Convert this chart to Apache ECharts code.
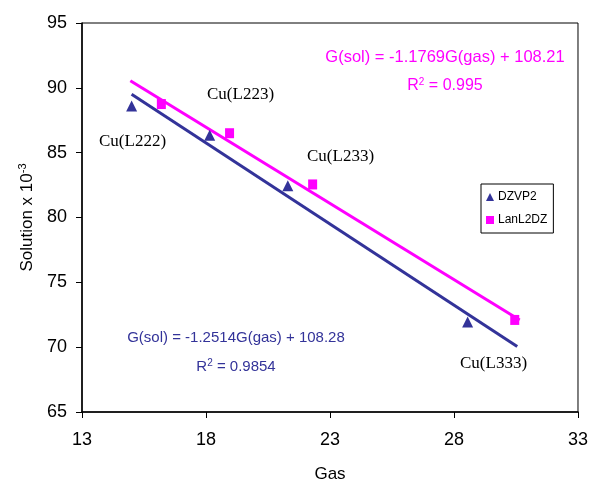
<!DOCTYPE html>
<html>
<head>
<meta charset="utf-8">
<script src="https://cdn.jsdelivr.net/npm/echarts@6/dist/echarts.min.js"></script>
<style>html,body{margin:0;padding:0;background:#fff;}#c{width:591px;height:488px;}</style>
</head>
<body>
<div id="c"></div>
<script>
// Data
var dzvp2Points = [[15.0, 88.6], [18.15, 86.35], [21.3, 82.45], [28.55, 71.95]];
var lanl2dzPoints = [[16.2, 88.75], [18.95, 86.5], [22.3, 82.55], [30.45, 72.1]];
var dzvp2Trend = [[15.0, 89.5], [30.55, 70.05]];
var lanl2dzTrend = [[14.95, 90.55], [30.65, 72.1]];
var seriesNames = ['DZVP2', 'LanL2DZ'];
var pointLabels = ['Cu(L222)', 'Cu(L223)', 'Cu(L233)', 'Cu(L333)'];
var xTicks = [13, 18, 23, 28, 33];
var yTicks = [65, 70, 75, 80, 85, 90, 95];

var BLUE = '#333399', PINK = '#FF00FF';
var SANS = 'Liberation Sans, Arial, sans-serif';
var SERIF = 'Liberation Serif, Times New Roman, serif';

var chart = echarts.init(document.getElementById('c'), null, {renderer: 'canvas'});
var option = {
  animation: false,
  backgroundColor: '#fff',
  grid: {left: 82, right: 13, top: 23, bottom: 76, show: true, borderColor: '#000', borderWidth: 1, backgroundColor: 'transparent'},
  xAxis: {
    type: 'value', min: xTicks[0], max: xTicks[xTicks.length - 1], interval: 5,
    name: 'Gas', nameLocation: 'middle', nameGap: 54,
    nameTextStyle: {fontFamily: SANS, fontSize: 17, color: '#000'},
    axisLine: {show: true, lineStyle: {color: '#000', width: 1.5}},
    axisTick: {show: true, inside: false, length: 6, lineStyle: {color: '#000'}},
    axisLabel: {margin: 19, fontFamily: SANS, fontSize: 18, color: '#000'},
    splitLine: {show: false}
  },
  yAxis: {
    type: 'value', min: yTicks[0], max: yTicks[yTicks.length - 1], interval: 5,
    name: '{a|Solution x 10}{s|-3}', nameLocation: 'middle', nameGap: 44, nameMoveOverlap: false,
    nameTextStyle: {rich: {a: {fontFamily: SANS, fontSize: 17, color: '#000'}, s: {fontFamily: SANS, fontSize: 11, color: '#000', verticalAlign: 'top', padding: [0, 0, 10, 0]}}},
    axisLine: {show: true, lineStyle: {color: '#000', width: 1.5}},
    axisTick: {show: true, inside: false, length: 6, lineStyle: {color: '#000'}},
    axisLabel: {margin: 15, fontFamily: SANS, fontSize: 18, color: '#000'},
    splitLine: {show: false}
  },
  legend: {
    orient: 'vertical', left: 481, top: 184, width: 60,
    data: seriesNames,
    borderColor: '#000', borderWidth: 1, padding: [7, 6, 7, 5], itemGap: 11,
    itemWidth: 8, itemHeight: 8,
    textStyle: {fontFamily: SANS, fontSize: 12, color: '#000', padding: [0, 0, 0, -1]}
  },
  series: [
    {type: 'line', data: dzvp2Trend, showSymbol: false, lineStyle: {color: BLUE, width: 3}, z: 2, silent: true},
    {type: 'line', data: lanl2dzTrend, showSymbol: false, lineStyle: {color: PINK, width: 3}, z: 2, silent: true},
    {name: seriesNames[0], type: 'scatter', data: dzvp2Points, symbol: 'triangle', symbolSize: [11, 11], itemStyle: {color: BLUE, opacity: 1}, z: 3},
    {name: seriesNames[1], type: 'scatter', data: lanl2dzPoints, symbol: 'rect', symbolSize: [9, 10], itemStyle: {color: PINK, opacity: 1}, z: 3}
  ],
  graphic: [
    {type: 'text', left: 99, top: 133, style: {text: pointLabels[0], font: '17px ' + SERIF, fill: '#000'}},
    {type: 'text', left: 207, top: 86, style: {text: pointLabels[1], font: '17px ' + SERIF, fill: '#000'}},
    {type: 'text', left: 307, top: 148, style: {text: pointLabels[2], font: '17px ' + SERIF, fill: '#000'}},
    {type: 'text', left: 460, top: 355, style: {text: pointLabels[3], font: '17px ' + SERIF, fill: '#000'}},
    {type: 'text', x: 445, y: 57, style: {text: 'G(sol) = -1.1769G(gas) + 108.21', font: '16.5px ' + SANS, fill: PINK, align: 'center', verticalAlign: 'middle'}},
    {type: 'text', x: 445, y: 86, style: {text: '{a|R}{s|2}{a| = 0.995}', rich: {a: {fontFamily: SANS, fontSize: 16, fill: PINK}, s: {fontFamily: SANS, fontSize: 10, fill: PINK, verticalAlign: 'top', padding: [0, 0, 8, 0]}}, align: 'center', verticalAlign: 'middle'}},
    {type: 'text', x: 236, y: 338, style: {text: 'G(sol) = -1.2514G(gas) + 108.28', font: '15px ' + SANS, fill: BLUE, align: 'center', verticalAlign: 'middle'}},
    {type: 'text', x: 236, y: 367, style: {text: '{a|R}{s|2}{a| = 0.9854}', rich: {a: {fontFamily: SANS, fontSize: 15, fill: BLUE}, s: {fontFamily: SANS, fontSize: 10, fill: BLUE, verticalAlign: 'top', padding: [0, 0, 8, 0]}}, align: 'center', verticalAlign: 'middle'}}
  ]
};
chart.setOption(option);
</script>
</body>
</html>
